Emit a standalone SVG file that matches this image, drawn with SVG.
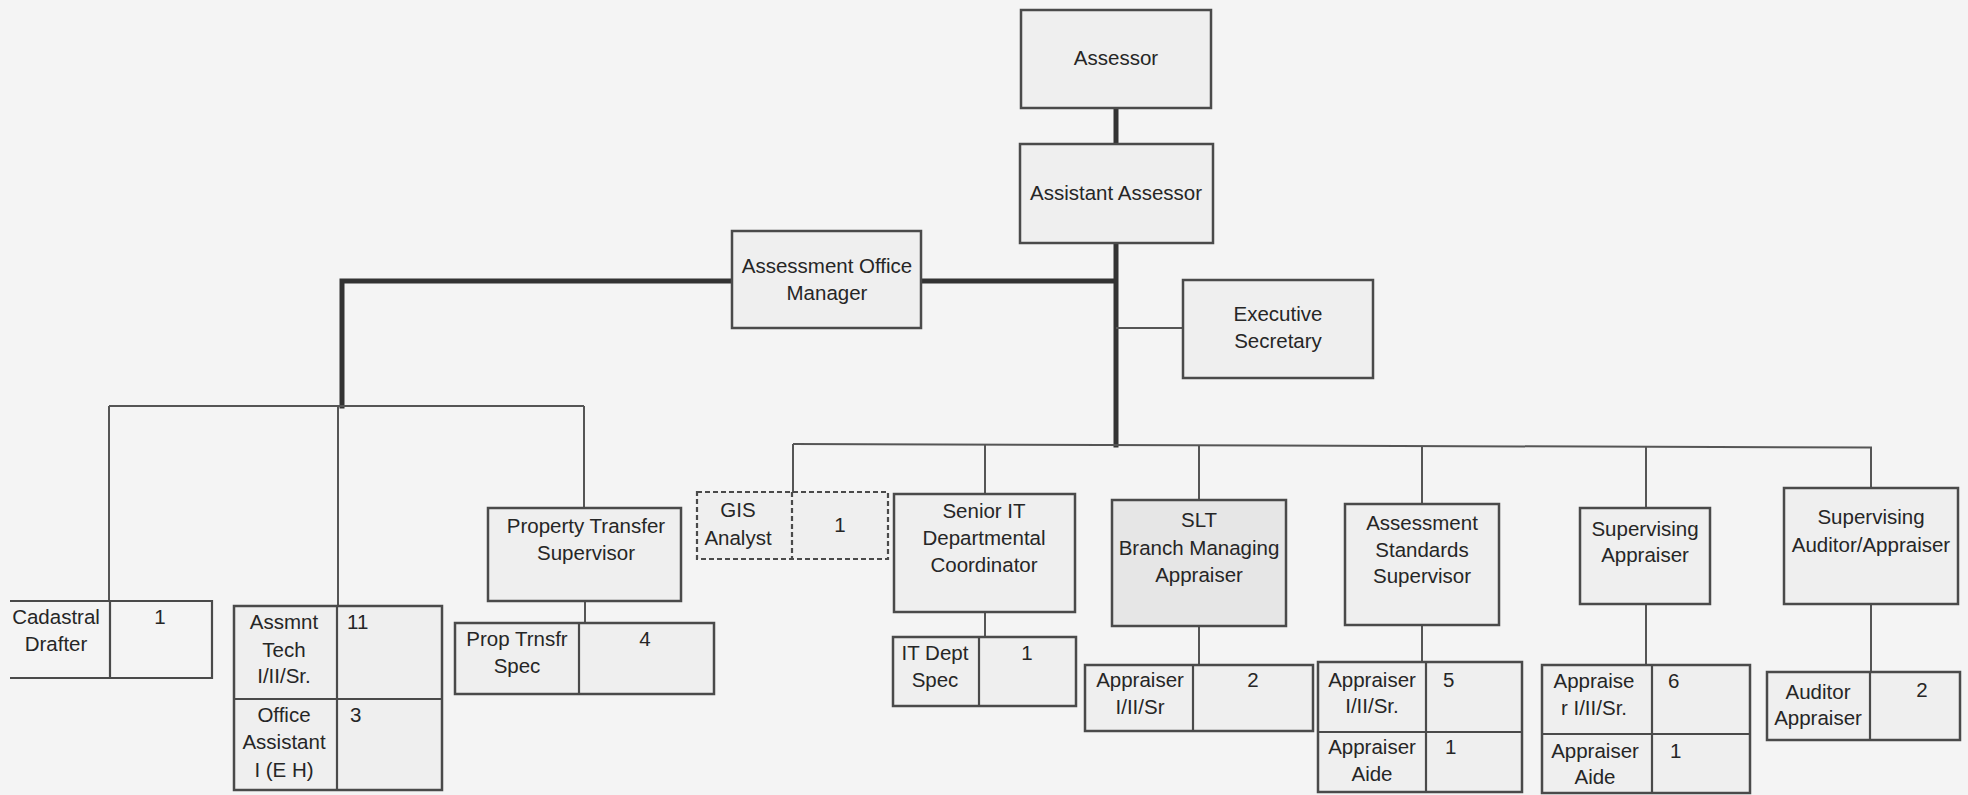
<svg xmlns="http://www.w3.org/2000/svg" width="1968" height="795" viewBox="0 0 1968 795">
  <style>
    .bg { fill: #f4f4f4; }
    .box { fill: #efefef; stroke: #4a4a4a; stroke-width: 2.5; }
    .box.shade { fill: #e6e6e6; }
    .box.dash { stroke-dasharray: 5 3; stroke-width: 2.2; }
    .div { stroke: #4a4a4a; stroke-width: 2.2; fill: none; }
    .thick { stroke: #333; stroke-width: 5; fill: none; stroke-linecap: square; }
    .thin { stroke: #555; stroke-width: 2; fill: none; }
    text { font-family: "Liberation Sans", Arial, sans-serif; font-size: 20.5px; fill: #262626; }
    .c { text-anchor: middle; }
  </style>

  <rect class="bg" x="0" y="0" width="1968" height="795"/>

  <!-- reporting lines -->
  <g id="connectors">
    <path class="thick" d="M1116 108 V144 M1116 243 V445 M1116 281 H342 V406"/>
    <path class="thin" d="M1116 328 H1183"/>
    <!-- office manager branch -->
    <path class="thin" d="M109 406 H584"/>
    <path class="thin" d="M109 406 V601 M338 406 V606 M584 406 V508"/>
    <path class="thin" d="M585 601 V623"/>
    <!-- assistant assessor branch -->
    <path class="thin" d="M793 444 L1871 447.5 V488"/>
    <path class="thin" d="M793 444 V492 M985 444.6 V494 M1199 445.3 V500 M1422 446 V504 M1646 446.7 V508"/>
    <path class="thin" d="M985 612 V637 M1199 626 V665 M1422 625 V662 M1646 604 V665 M1871 604 V672"/>
  </g>

  <g id="assessor">
    <rect class="box" x="1021" y="10" width="190" height="98"/>
    <text class="c" x="1116" y="65">Assessor</text>
  </g>

  <g id="assistant-assessor">
    <rect class="box" x="1020" y="144" width="193" height="99"/>
    <text class="c" x="1116" y="200">Assistant Assessor</text>
  </g>

  <g id="executive-secretary">
    <rect class="box" x="1183" y="280" width="190" height="98"/>
    <text class="c" x="1278" y="321">Executive</text>
    <text class="c" x="1278" y="348">Secretary</text>
  </g>

  <g id="office-manager">
    <rect class="box" x="732" y="231" width="189" height="97"/>
    <text class="c" x="827" y="273">Assessment Office</text>
    <text class="c" x="827" y="300">Manager</text>
  </g>

  <g id="cadastral-drafter">
    <path class="div" d="M10 601 H212 V678 H10 M110 601 V678"/>
    <text class="c" x="56" y="624">Cadastral</text>
    <text class="c" x="56" y="651">Drafter</text>
    <text class="c" x="160" y="624">1</text>
  </g>

  <g id="assessment-tech">
    <rect class="box" x="234" y="606" width="208" height="184"/>
    <path class="div" d="M337 606 V790 M234 699 H442"/>
    <text class="c" x="284" y="629">Assmnt</text>
    <text class="c" x="284" y="657">Tech</text>
    <text class="c" x="284" y="683">I/II/Sr.</text>
    <text x="347" y="629">11</text>
    <text class="c" x="284" y="722">Office</text>
    <text class="c" x="284" y="749">Assistant</text>
    <text class="c" x="284" y="777">I (E H)</text>
    <text x="350" y="722">3</text>
  </g>

  <g id="property-transfer-supervisor">
    <rect class="box" x="488" y="508" width="193" height="93"/>
    <text class="c" x="586" y="533">Property Transfer</text>
    <text class="c" x="586" y="560">Supervisor</text>
  </g>

  <g id="prop-transfer-spec">
    <rect class="box" x="455" y="623" width="259" height="71"/>
    <path class="div" d="M579 623 V694"/>
    <text class="c" x="517" y="646">Prop Trnsfr</text>
    <text class="c" x="517" y="673">Spec</text>
    <text class="c" x="645" y="646">4</text>
  </g>

  <g id="gis-analyst">
    <rect class="box dash" x="697" y="492" width="191" height="67"/>
    <path class="div" d="M792 492 V559" stroke-dasharray="5 3"/>
    <text class="c" x="738" y="517">GIS</text>
    <text class="c" x="738" y="545">Analyst</text>
    <text class="c" x="840" y="532">1</text>
  </g>

  <g id="senior-it-coordinator">
    <rect class="box" x="894" y="494" width="181" height="118"/>
    <text class="c" x="984" y="518">Senior IT</text>
    <text class="c" x="984" y="545">Departmental</text>
    <text class="c" x="984" y="572">Coordinator</text>
  </g>

  <g id="it-dept-spec">
    <rect class="box" x="893" y="637" width="183" height="69"/>
    <path class="div" d="M979 637 V706"/>
    <text class="c" x="935" y="660">IT Dept</text>
    <text class="c" x="935" y="687">Spec</text>
    <text class="c" x="1027" y="660">1</text>
  </g>

  <g id="slt-branch-managing-appraiser">
    <rect class="box shade" x="1112" y="500" width="174" height="126"/>
    <text class="c" x="1199" y="527">SLT</text>
    <text class="c" x="1199" y="555">Branch Managing</text>
    <text class="c" x="1199" y="582">Appraiser</text>
  </g>

  <g id="slt-appraisers">
    <rect class="box" x="1085" y="665" width="228" height="66"/>
    <path class="div" d="M1193 665 V731"/>
    <text class="c" x="1140" y="687">Appraiser</text>
    <text class="c" x="1140" y="714">I/II/Sr</text>
    <text class="c" x="1253" y="687">2</text>
  </g>

  <g id="assessment-standards-supervisor">
    <rect class="box" x="1345" y="504" width="154" height="121"/>
    <text class="c" x="1422" y="530">Assessment</text>
    <text class="c" x="1422" y="557">Standards</text>
    <text class="c" x="1422" y="583">Supervisor</text>
  </g>

  <g id="standards-staff">
    <rect class="box" x="1318" y="662" width="204" height="130"/>
    <path class="div" d="M1426 662 V792 M1318 732 H1522"/>
    <text class="c" x="1372" y="687">Appraiser</text>
    <text class="c" x="1372" y="713">I/II/Sr.</text>
    <text x="1443" y="687">5</text>
    <text class="c" x="1372" y="754">Appraiser</text>
    <text class="c" x="1372" y="781">Aide</text>
    <text x="1445" y="754">1</text>
  </g>

  <g id="supervising-appraiser">
    <rect class="box" x="1580" y="508" width="130" height="96"/>
    <text class="c" x="1645" y="536">Supervising</text>
    <text class="c" x="1645" y="562">Appraiser</text>
  </g>

  <g id="appraisal-staff">
    <rect class="box" x="1542" y="665" width="208" height="128"/>
    <path class="div" d="M1652 665 V793 M1542 734 H1750"/>
    <text class="c" x="1594" y="688">Appraise</text>
    <text class="c" x="1594" y="715">r I/II/Sr.</text>
    <text x="1668" y="688">6</text>
    <text class="c" x="1595" y="758">Appraiser</text>
    <text class="c" x="1595" y="784">Aide</text>
    <text x="1670" y="758">1</text>
  </g>

  <g id="supervising-auditor-appraiser">
    <rect class="box" x="1784" y="488" width="174" height="116"/>
    <text class="c" x="1871" y="524">Supervising</text>
    <text class="c" x="1871" y="552">Auditor/Appraiser</text>
  </g>

  <g id="auditor-appraiser">
    <rect class="box" x="1767" y="672" width="193" height="68"/>
    <path class="div" d="M1870 672 V740"/>
    <text class="c" x="1818" y="699">Auditor</text>
    <text class="c" x="1818" y="725">Appraiser</text>
    <text class="c" x="1922" y="697">2</text>
  </g>
</svg>
